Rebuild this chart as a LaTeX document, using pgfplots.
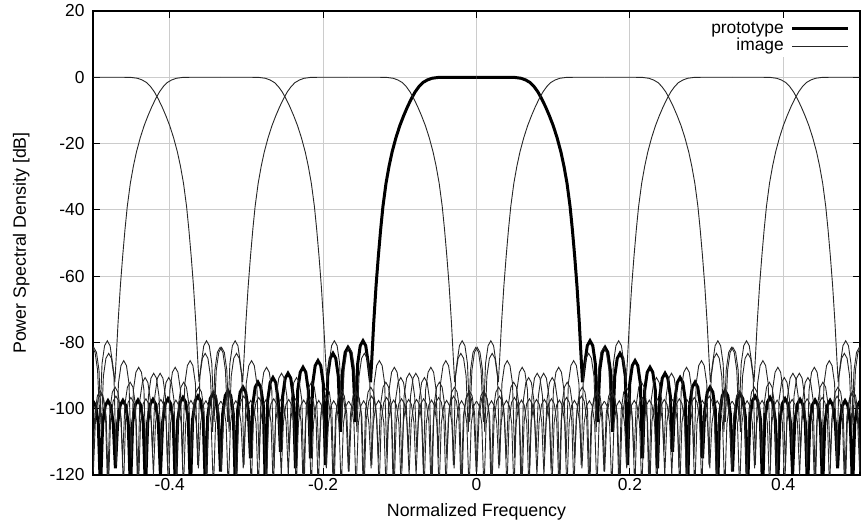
\documentclass[border=0pt]{standalone}
\usepackage{fontspec}
\setmainfont{Liberation Sans}
\usepackage{pgfplots}
\usepackage{pgfplotstable}
\pgfplotsset{compat=1.18}

% one half (x >= 0) of the prototype PSD in dB; the filter is symmetric
\pgfplotstableread[row sep=\\]{
x y\\
0 0\\ 0.02 0\\ 0.04 0\\ 0.05 -0.05\\ 0.058 -0.3\\ 0.064 -0.8\\ 0.07 -1.6\\ 0.075 -2.8\\ 0.08 -4.4\\ 0.085 -6.5\\ 0.09 -8.9\\ 0.095 -11.6\\ 0.1 -14.6\\ 0.105 -18.2\\ 0.11 -22.5\\ 0.114 -26.8\\ 0.118 -32\\ 0.122 -39\\ 0.125 -46\\ 0.128 -54\\ 0.131 -63\\ 0.134 -74\\ 0.1365 -85\\ 0.1382 -92\\
0.1411 -86.4\\ 0.1444 -81\\ 0.1480 -79.5\\ 0.1516 -81\\ 0.1549 -86.4\\ 0.1578 -104\\
0.1607 -88.4\\ 0.1640 -83\\ 0.1676 -81.5\\ 0.1712 -83\\ 0.1745 -88.4\\ 0.1774 -107\\
0.1802 -90.2\\ 0.1835 -84.8\\ 0.1871 -83.3\\ 0.1907 -84.8\\ 0.1940 -90.2\\ 0.1969 -117\\
0.1998 -92.4\\ 0.2031 -87\\ 0.2067 -85.5\\ 0.2103 -87\\ 0.2136 -92.4\\ 0.2165 -115\\
0.2193 -94.4\\ 0.2226 -89\\ 0.2262 -87.5\\ 0.2298 -89\\ 0.2331 -94.4\\ 0.2360 -118\\
0.2389 -96.2\\ 0.2422 -90.8\\ 0.2458 -89.3\\ 0.2494 -90.8\\ 0.2527 -96.2\\ 0.2556 -113\\
0.2585 -97.5\\ 0.2618 -92.1\\ 0.2654 -90.6\\ 0.2690 -92.1\\ 0.2723 -97.5\\ 0.2752 -125\\
0.2780 -98.9\\ 0.2813 -93.5\\ 0.2849 -92\\ 0.2885 -93.5\\ 0.2918 -98.9\\ 0.2947 -115\\
0.2976 -100.4\\ 0.3009 -95\\ 0.3045 -93.5\\ 0.3081 -95\\ 0.3114 -100.4\\ 0.3143 -125\\
0.3171 -101.5\\ 0.3204 -96.1\\ 0.3240 -94.6\\ 0.3276 -96.1\\ 0.3309 -101.5\\ 0.3338 -119\\
0.3367 -102.4\\ 0.3400 -97\\ 0.3436 -95.5\\ 0.3472 -97\\ 0.3505 -102.4\\ 0.3534 -125\\
0.3563 -103.1\\ 0.3596 -97.7\\ 0.3632 -96.2\\ 0.3668 -97.7\\ 0.3701 -103.1\\ 0.3730 -125\\
0.3758 -103.5\\ 0.3791 -98.1\\ 0.3827 -96.6\\ 0.3863 -98.1\\ 0.3896 -103.5\\ 0.3925 -125\\
0.3954 -103.9\\ 0.3987 -98.5\\ 0.4023 -97\\ 0.4059 -98.5\\ 0.4092 -103.9\\ 0.4121 -120\\
0.4149 -104.1\\ 0.4182 -98.7\\ 0.4218 -97.2\\ 0.4254 -98.7\\ 0.4287 -104.1\\ 0.4316 -125\\
0.4345 -104.3\\ 0.4378 -98.9\\ 0.4414 -97.4\\ 0.4450 -98.9\\ 0.4483 -104.3\\ 0.4512 -125\\
0.4541 -104.4\\ 0.4574 -99\\ 0.4610 -97.5\\ 0.4646 -99\\ 0.4679 -104.4\\ 0.4708 -118\\
0.4736 -104.5\\ 0.4769 -99.1\\ 0.4805 -97.6\\ 0.4841 -99.1\\ 0.4874 -104.5\\ 0.4903 -125\\
0.4931 -104.6\\ 0.4964 -99.2\\ 0.5 -97.7\\
}\half

\begin{document}
\begin{tikzpicture}
\begin{axis}[
  scale only axis, width=767pt, height=464pt,
  xmin=-0.5, xmax=0.5, ymin=-120, ymax=20,
  xtick={-0.4,-0.2,0,0.2,0.4}, xticklabels={-0.4,-0.2,0,0.2,0.4},
  ytick={-120,-100,-80,-60,-40,-20,0,20},
  yticklabels={-120,-100,-80,-60,-40,-20,0,20},
  tick pos=both, tick align=inside, major tick length=7pt,
  tick style={line width=1pt, black},
  grid=major, major grid style={line width=1pt, color=black!20},
  axis line style={line width=1.5pt},
  tick label style={font=\fontsize{17.4pt}{20pt}\selectfont},
  yticklabel style={xshift=-5pt},
  label style={font=\fontsize{17.8pt}{20pt}\selectfont},
  xlabel={Normalized Frequency},
  ylabel={Power Spectral Density [dB]},
  xlabel style={at={(axis description cs:0.5,-0.0802)}, anchor=center},
  ylabel style={at={(axis description cs:-0.0936,0.5)}, anchor=center},
  legend style={draw=none, fill=white, at={(axis description cs:1,1)}, anchor=north east,
    xshift=-8pt, yshift=-7pt, inner sep=2pt, row sep=0pt,
    font=\fontsize{17.4pt}{20pt}\selectfont,
    /tikz/column 1/.style={column sep=6pt},
    nodes={inner sep=1pt, text height=12pt, text depth=3.5pt}},
  legend cell align=right, legend plot pos=right,
  legend image code/.code={\draw[#1] (0pt,0pt) -- (56pt,0pt);},
]
\addplot[line width=3pt, black, forget plot] table[x=x, y=y] {\half};
\addplot[line width=3pt, black, forget plot] table[x expr=-\thisrow{x}, y=y] {\half};
\pgfplotsinvokeforeach{-0.833333,-0.666667,-0.5,-0.333333,-0.166667,0.166667,0.333333,0.5,0.666667,0.833333}{
  \addplot[line width=0.9pt, black!85, forget plot] table[x expr=#1+\thisrow{x}, y=y] {\half};
  \addplot[line width=0.9pt, black!85, forget plot] table[x expr=#1-\thisrow{x}, y=y] {\half};
}
\addlegendimage{line width=3pt, black}
\addlegendentry{prototype}
\addlegendimage{line width=0.9pt, black!85}
\addlegendentry{image}
\end{axis}
\path (current axis.south west) ++(-93pt,-54pt) coordinate (BBA);
\path (current axis.north east) ++(2pt,11pt) coordinate (BBB);
\pgfresetboundingbox
\path (BBA) rectangle (BBB);
\end{tikzpicture}
\end{document}
